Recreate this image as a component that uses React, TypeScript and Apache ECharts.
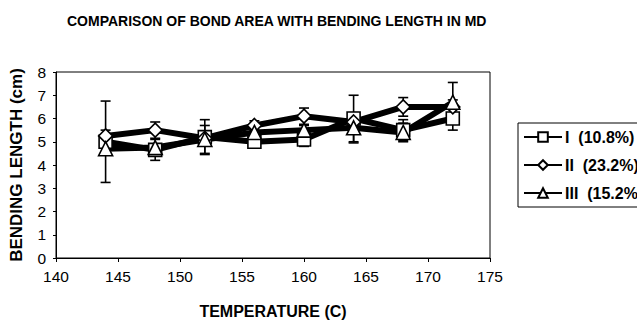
import React, { useEffect, useRef } from "react";
import * as echarts from "echarts";

const temps = [144, 148, 152, 156, 160, 164, 168, 172];
const seriesNames = ["I  (10.8%)", "II  (23.2%)", "III  (15.2%)"];
const valuesI = [5.0, 4.65, 5.2, 5.0, 5.1, 6.0, 5.5, 6.0];
const errI = [1.75, 0.45, 0.75, 0.15, 0.3, 1.0, 0.45, 0.5];
const valuesII = [5.25, 5.5, 5.15, 5.7, 6.1, 5.85, 6.5, 6.5];
const errII = [0.25, 0.35, 0.2, 0.2, 0.35, 0.3, 0.4, 0.3];
const valuesIII = [4.7, 4.75, 5.1, 5.4, 5.5, 5.6, 5.4, 6.7];
const errIII = [0.2, 0.15, 0.6, 0.2, 0.2, 0.65, 0.4, 0.85];
const symbols = ["rect", "diamond", "triangle"];

const FONT = "Liberation Sans, Arial, sans-serif";

export default function App() {
  const ref = useRef<HTMLDivElement>(null);
  useEffect(() => {
    if (!ref.current) return;
    const chart = echarts.init(ref.current, undefined, { renderer: "svg" });
    const allValues = [valuesI, valuesII, valuesIII];
    const allErr = [errI, errII, errIII];

    const lineSeries = allValues.map((vals, i) => ({
      type: "line",
      name: seriesNames[i],
      data: temps.map((t, j) => [t, vals[j]]),
      symbol: symbols[i],
      symbolSize: i === 0 ? 13 : 14,
      lineStyle: { color: "#000", width: 6 },
      itemStyle: { color: "#fff", borderColor: "#000", borderWidth: 1.6 },
      z: 3,
    }));

    const errSeries = allValues.map((vals, i) => ({
      type: "custom",
      name: "err" + i,
      data: temps.map((t, j) => [t, vals[j] - allErr[i][j], vals[j] + allErr[i][j]]),
      renderItem: (params: any, api: any) => {
        const x = api.value(0);
        const lo = api.coord([x, api.value(1)]);
        const hi = api.coord([x, api.value(2)]);
        const w = 5;
        const style = { stroke: "#000", lineWidth: 1.6 };
        return {
          type: "group",
          children: [
            { type: "line", shape: { x1: lo[0], y1: lo[1], x2: hi[0], y2: hi[1] }, style },
            { type: "line", shape: { x1: hi[0] - w, y1: hi[1], x2: hi[0] + w, y2: hi[1] }, style },
            { type: "line", shape: { x1: lo[0] - w, y1: lo[1], x2: lo[0] + w, y2: lo[1] }, style },
          ],
        };
      },
      z: 2,
      silent: true,
    }));

    chart.setOption({
      animation: false,
      textStyle: { fontFamily: FONT },
      title: {
        text: "COMPARISON OF BOND AREA WITH BENDING LENGTH IN MD",
        left: 62,
        top: 9,
        textStyle: { fontSize: 14, fontWeight: "bold", color: "#000", fontFamily: FONT },
      },
      grid: {
        left: 55,
        right: 147,
        top: 72,
        bottom: 66,
        show: true,
        borderColor: "#000",
        borderWidth: 1,
        backgroundColor: "transparent",
      },
      legend: {
        data: seriesNames,
        orient: "vertical",
        left: 518,
        top: 123,
        padding: [6, 10, 6, 5],
        itemWidth: 38,
        itemHeight: 12,
        itemGap: 12,
        borderColor: "#000",
        borderWidth: 1,
        textStyle: { fontSize: 16, fontWeight: "bold", color: "#000", fontFamily: FONT, padding: [0, 0, 0, -2] },
      },
      xAxis: {
        type: "value",
        min: 140,
        max: 175,
        interval: 5,
        name: "TEMPERATURE (C)",
        nameLocation: "middle",
        nameGap: 45,
        nameTextStyle: { fontSize: 16, fontWeight: "bold", color: "#000", fontFamily: FONT },
        axisLine: { lineStyle: { color: "#000", width: 1 } },
        axisTick: { show: true, inside: false, length: 4, lineStyle: { color: "#000" } },
        axisLabel: { fontSize: 15.5, color: "#000", margin: 10, fontFamily: FONT },
        splitLine: { show: false },
      },
      yAxis: {
        type: "value",
        min: 0,
        max: 8,
        interval: 1,
        name: "BENDING LENGTH (cm)",
        nameLocation: "middle",
        nameGap: 31,
        nameTextStyle: { fontSize: 17, fontWeight: "bold", color: "#000", fontFamily: FONT },
        axisLine: { show: true, lineStyle: { color: "#000", width: 1 } },
        axisTick: { show: true, inside: false, length: 3, lineStyle: { color: "#000" } },
        axisLabel: { fontSize: 15.5, color: "#000", margin: 10, fontFamily: FONT },
        splitLine: { show: false },
      },
      series: [...errSeries, ...lineSeries],
    });
    return () => chart.dispose();
  }, []);
  return (
    <div
      ref={ref}
      style={{ position: "fixed", left: 0, top: 0, width: 637, height: 324, background: "#fff" }}
    />
  );
}
